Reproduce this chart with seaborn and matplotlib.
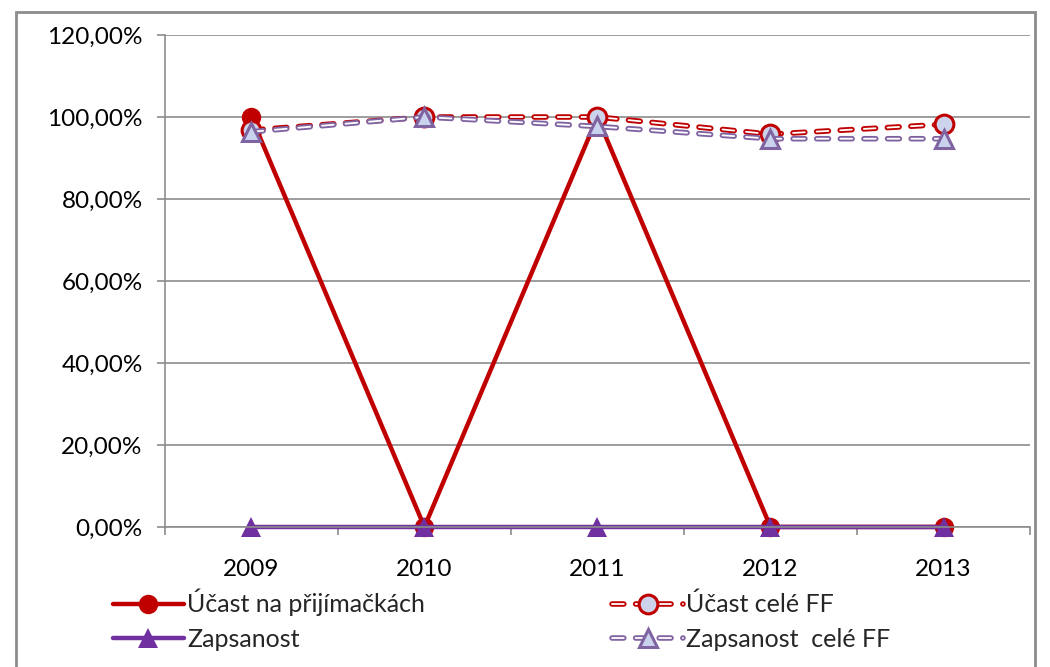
import matplotlib
matplotlib.use("Agg")
import matplotlib.pyplot as plt
import matplotlib.patheffects as pe
from matplotlib.patches import Rectangle
from matplotlib.ticker import FixedLocator, FuncFormatter
import seaborn as sns
import pandas as pd

years = [2009, 2010, 2011, 2012, 2013]
ucast = [100, 0, 100, 0, 0]
ucast_ff = [96.8, 100, 100, 95.8, 98.2]
zapsanost = [0, 0, 0, 0, 0]
zapsanost_ff = [96.4, 100, 97.7, 94.7, 94.7]
labels = ["Účast na přijímačkách", "Účast celé FF", "Zapsanost", "Zapsanost  celé FF"]

sns.set_style("white")
plt.rcParams["font.family"] = ["Lato", "DejaVu Sans"]
plt.rcParams["lines.scale_dashes"] = False

red = "#c00000"
purple = "#7030a0"
purple_light = "#8064a2"
gray = "#8c8c8c"

df = pd.DataFrame({"rok": years, "ucast": ucast, "ucast_ff": ucast_ff,
                   "zapsanost": zapsanost, "zapsanost_ff": zapsanost_ff})

fig = plt.figure(figsize=(10.5, 6.67), dpi=100)
ax = fig.add_axes([0.157, 0.21, 0.824, 0.7375])


def dashed(col, color, face, edge, marker):
    sns.lineplot(data=df, x="rok", y=col, ax=ax, color="white", lw=1.3,
                 legend=False)
    ln = ax.lines[-1]
    ln.set_dashes((8.5, 8.5))
    ln.set_dash_capstyle("round")
    ln.set_clip_on(False)
    ln.set_path_effects([pe.Stroke(linewidth=4.0, foreground=color), pe.Normal()])
    mk, = ax.plot(df["rok"], df[col], ls="none", marker=marker, ms=13.5,
                  mfc=face, mec=edge, mew=2.2, clip_on=False)
    return (ln, mk)


sns.lineplot(data=df, x="rok", y="ucast", ax=ax, color=red, lw=3.2,
             marker="o", markersize=14, markeredgewidth=0, legend=False)
h1 = ax.lines[-1]
h1.set_clip_on(False)
h2 = dashed("ucast_ff", red, "#cdd3ea", red, "o")
sns.lineplot(data=df, x="rok", y="zapsanost", ax=ax, color=purple, lw=3.2,
             marker="^", markersize=15, markeredgewidth=0, legend=False)
h3 = ax.lines[-1]
h3.set_clip_on(False)
h4 = dashed("zapsanost_ff", purple_light, "#c9d3ee", purple_light, "^")

ax.set_xlim(2008.5, 2013.5)
ax.set_ylim(0, 120)
ax.set_xticks(years)
ax.set_xticklabels([str(y) for y in years])
ax.xaxis.set_minor_locator(FixedLocator([2008.5 + i for i in range(6)]))
ax.set_yticks(range(0, 121, 20))
ax.yaxis.set_major_formatter(FuncFormatter(lambda v, p: f"{v:.2f}%".replace(".", ",")))
ax.set_xlabel("")
ax.set_ylabel("")

ax.grid(axis="y", color=gray, lw=1.2)
ax.set_axisbelow(True)
for s in ["top", "right"]:
    ax.spines[s].set_visible(False)
for s in ["left", "bottom"]:
    ax.spines[s].set_color(gray)
    ax.spines[s].set_linewidth(1.2)
ax.tick_params(axis="y", which="major", length=6, width=1.2, color=gray, pad=10,
               labelsize=17.5, direction="out", left=True)
ax.tick_params(axis="x", which="major", length=0, pad=23, labelsize=17.5)
ax.tick_params(axis="x", which="minor", length=6, width=1.2, color=gray,
               direction="out", bottom=True)
for t in ax.get_yticklabels() + ax.get_xticklabels():
    t.set_color("black")

fig.legend([h1, h3, h2, h4], [labels[0], labels[2], labels[1], labels[3]],
           ncol=2, loc="upper left", bbox_to_anchor=(0.1076, 0.117), frameon=False,
           fontsize=18, handlelength=2.84, handletextpad=0.12, columnspacing=7.5,
           labelspacing=0.45, borderaxespad=0, borderpad=0)

fig.patches.append(Rectangle((16 / 1050, -0.1), (1035 - 16) / 1050, 1.1 - 12 / 667,
                             transform=fig.transFigure, fill=False, ec=gray, lw=2))

fig.savefig("out.png", dpi=100)
